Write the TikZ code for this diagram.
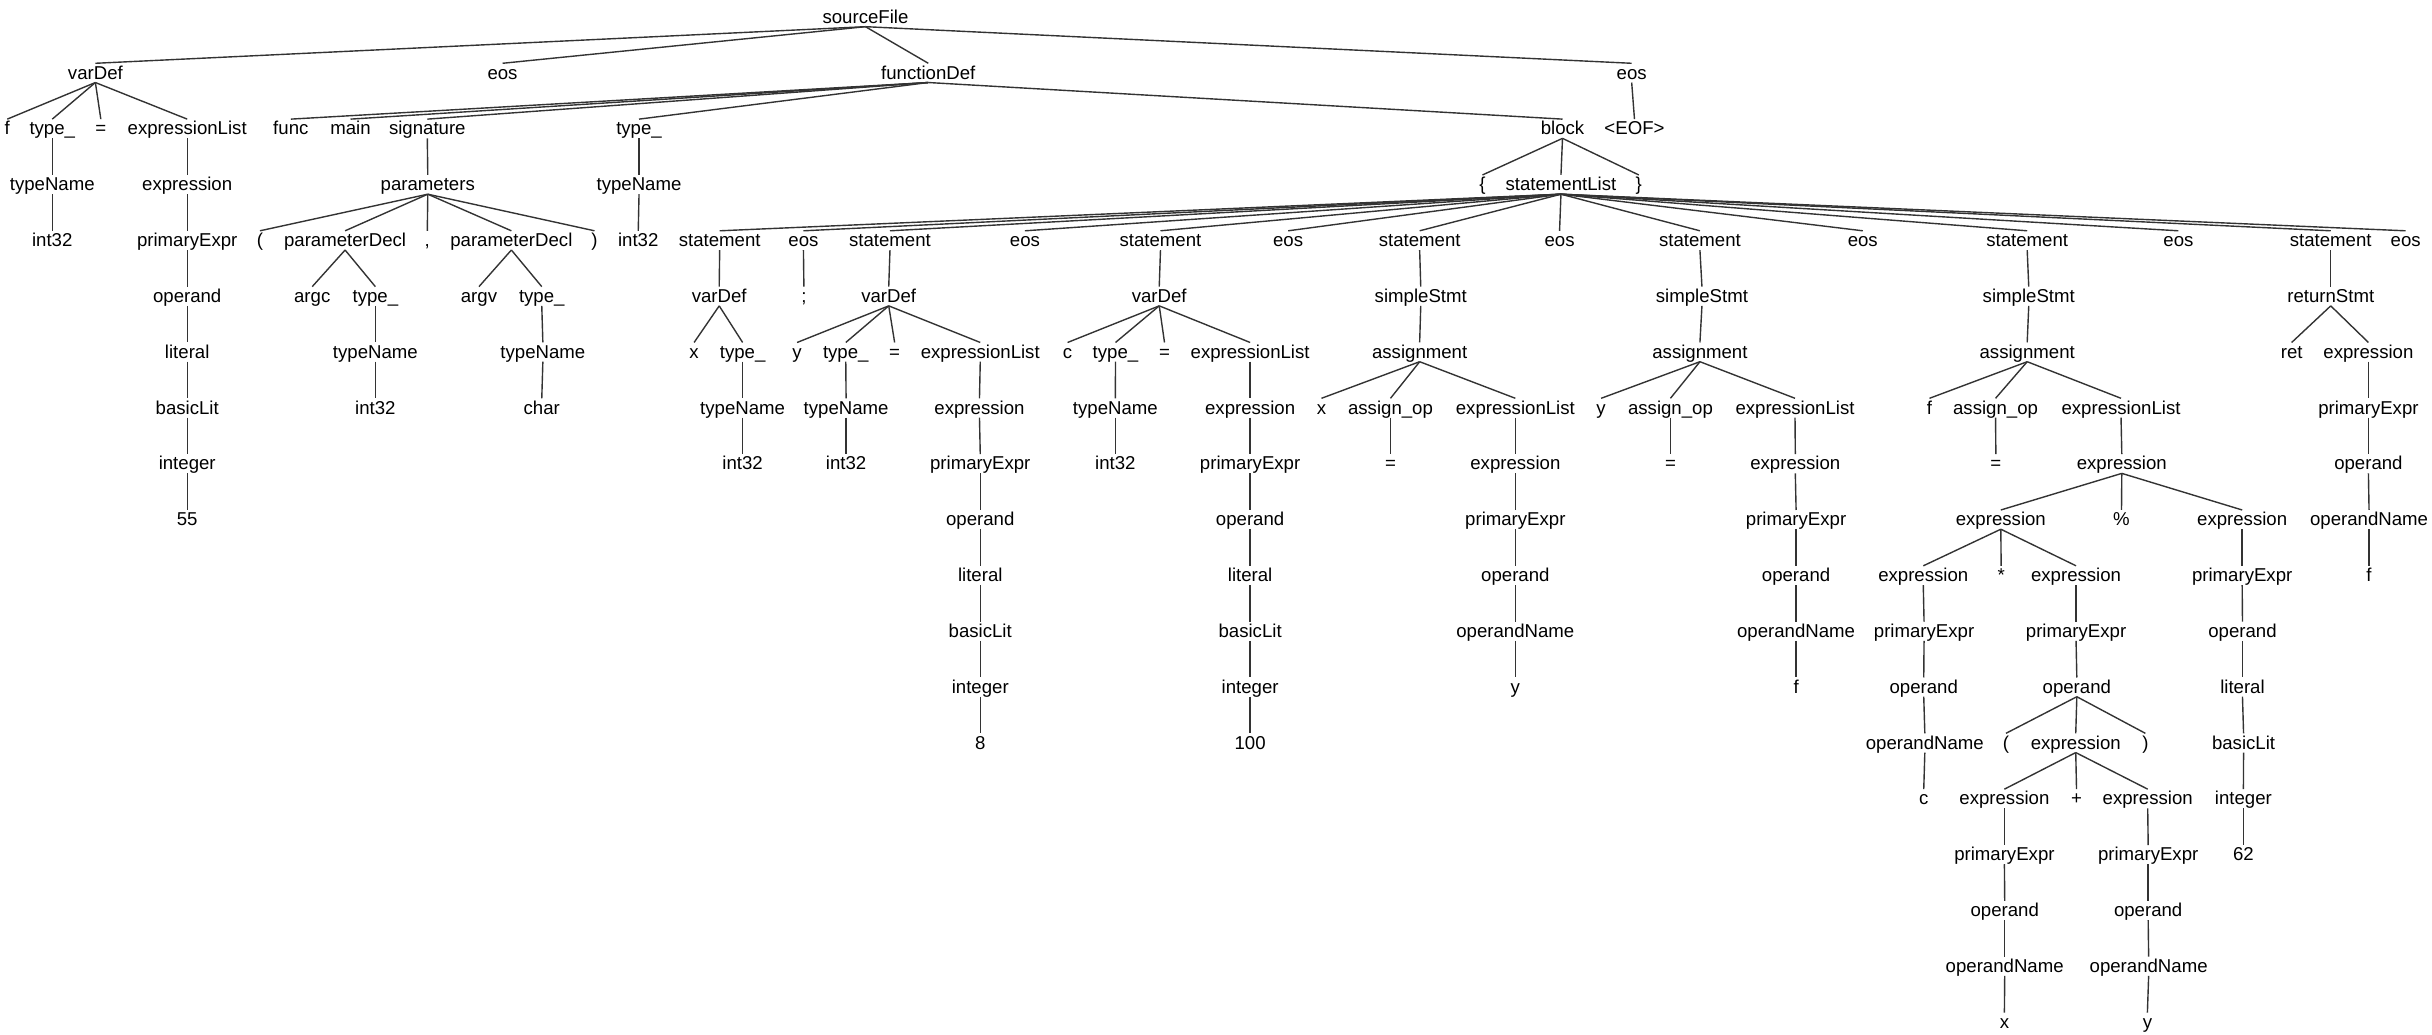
\documentclass[tikz,border=0pt]{standalone}
\usepackage{fontspec}
\setmainfont{Liberation Sans}
\usepackage{tikz}
\definecolor{tree-line}{HTML}{333333}
\definecolor{tree-text}{HTML}{000000}

\begin{document}
\begin{tikzpicture}[
    x=1pt, y=-36pt,
    lbl/.style={inner sep=0pt, text height=10pt, text depth=2pt,
                font=\fontsize{12}{14}\selectfont, text=tree-text},
    br/.style={draw=tree-line, line width=0.9pt},
]
    \useasboundingbox (0,-0.3056) rectangle (1568,18.2222);

    % sourceFile / top level
    \node[lbl] (sf) at (558,0) {sourceFile};
    \node[lbl] (vd) at (61.5,1) {varDef};
    \node[lbl] (eA) at (324,1) {eos};
    \node[lbl] (fd) at (598.5,1) {functionDef};
    \node[lbl] (eB) at (1052,1) {eos};

    \node[lbl] (vdF) at (4.7,2) {f};
    \node[lbl] (vdT) at (33.7,2) {type\_};
    \node[lbl] (vdEq) at (65,2) {=};
    \node[lbl] (vdEL) at (120.7,2) {expressionList};
    \node[lbl] (fnK) at (187.5,2) {func};
    \node[lbl] (fnM) at (226,2) {main};
    \node[lbl] (sig) at (275.5,2) {signature};
    \node[lbl] (fnT) at (412,2) {type\_};
    \node[lbl] (blk) at (1007.4,2) {block};
    \node[lbl] (eof) at (1053.8,2) {<EOF>};

    \node[lbl] (vdTN) at (33.7,3) {typeName};
    \node[lbl] (vdEx) at (120.7,3) {expression};
    \node[lbl] (pars) at (275.8,3) {parameters};
    \node[lbl] (fnTN) at (412,3) {typeName};
    \node[lbl] (lbr) at (955.8,3) {\{};
    \node[lbl] (sl) at (1006.4,3) {statementList};
    \node[lbl] (rbr) at (1056.6,3) {\}};

    \node[lbl] (vdI) at (33.7,4) {int32};
    \node[lbl] (vdPE) at (120.7,4) {primaryExpr};
    \node[lbl] (lp) at (167.6,4) {(};
    \node[lbl] (pd1) at (222.5,4) {parameterDecl};
    \node[lbl] (com) at (275.5,4) {,};
    \node[lbl] (pd2) at (329.7,4) {parameterDecl};
    \node[lbl] (rp) at (383.3,4) {)};
    \node[lbl] (fnI) at (411.5,4) {int32};
    \node[lbl] (st1) at (464,4) {statement};
    \node[lbl] (e1) at (518,4) {eos};
    \node[lbl] (st2) at (573.8,4) {statement};
    \node[lbl] (e2) at (660.8,4) {eos};
    \node[lbl] (st3) at (748.2,4) {statement};
    \node[lbl] (e3) at (830.5,4) {eos};
    \node[lbl] (st4) at (915.3,4) {statement};
    \node[lbl] (e4) at (1005.5,4) {eos};
    \node[lbl] (st5) at (1096,4) {statement};
    \node[lbl] (e5) at (1201,4) {eos};
    \node[lbl] (st6) at (1307,4) {statement};
    \node[lbl] (e6) at (1404.5,4) {eos};
    \node[lbl] (st7) at (1502.7,4) {statement};
    \node[lbl] (e7) at (1551,4) {eos};

    \node[lbl] (vdOp) at (120.7,5) {operand};
    \node[lbl] (argc) at (201.3,5) {argc};
    \node[lbl] (pd1T) at (242,5) {type\_};
    \node[lbl] (argv) at (308.8,5) {argv};
    \node[lbl] (pd2T) at (349.3,5) {type\_};
    \node[lbl] (st1V) at (463.7,5) {varDef};
    \node[lbl] (semi) at (518.3,5) {;};
    \node[lbl] (st2V) at (573,5) {varDef};
    \node[lbl] (st3V) at (747.4,5) {varDef};
    \node[lbl] (st4S) at (916,5) {simpleStmt};
    \node[lbl] (st5S) at (1097.3,5) {simpleStmt};
    \node[lbl] (st6S) at (1308,5) {simpleStmt};
    \node[lbl] (st7R) at (1502.7,5) {returnStmt};

    \node[lbl] (vdLit) at (120.7,6) {literal};
    \node[lbl] (pd1TN) at (242,6) {typeName};
    \node[lbl] (pd2TN) at (350,6) {typeName};
    \node[lbl] (st1X) at (447.5,6) {x};
    \node[lbl] (st1T) at (478.8,6) {type\_};
    \node[lbl] (st2Y) at (513.9,6) {y};
    \node[lbl] (st2T) at (545.3,6) {type\_};
    \node[lbl] (st2Eq) at (576.8,6) {=};
    \node[lbl] (st2EL) at (632,6) {expressionList};
    \node[lbl] (st3C) at (688.3,6) {c};
    \node[lbl] (st3T) at (719.2,6) {type\_};
    \node[lbl] (st3Eq) at (750.8,6) {=};
    \node[lbl] (st3EL) at (806,6) {expressionList};
    \node[lbl] (st4A) at (915.3,6) {assignment};
    \node[lbl] (st5A) at (1096,6) {assignment};
    \node[lbl] (st6A) at (1307,6) {assignment};
    \node[lbl] (ret) at (1477.5,6) {ret};
    \node[lbl] (st7E) at (1527,6) {expression};

    \node[lbl] (vdBL) at (120.7,7) {basicLit};
    \node[lbl] (pd1I) at (242,7) {int32};
    \node[lbl] (pd2C) at (349.3,7) {char};
    \node[lbl] (st1TN) at (478.8,7) {typeName};
    \node[lbl] (st2TN) at (545.5,7) {typeName};
    \node[lbl] (st2Ex) at (631.5,7) {expression};
    \node[lbl] (st3TN) at (719.1,7) {typeName};
    \node[lbl] (st3Ex) at (806,7) {expression};
    \node[lbl] (st4X) at (852,7) {x};
    \node[lbl] (st4AO) at (896.5,7) {assign\_op};
    \node[lbl] (st4EL) at (977,7) {expressionList};
    \node[lbl] (st5Y) at (1032.3,7) {y};
    \node[lbl] (st5AO) at (1077,7) {assign\_op};
    \node[lbl] (st5EL) at (1157.3,7) {expressionList};
    \node[lbl] (st6F) at (1244,7) {f};
    \node[lbl] (st6AO) at (1286.6,7) {assign\_op};
    \node[lbl] (st6EL) at (1367.5,7) {expressionList};
    \node[lbl] (st7PE) at (1527,7) {primaryExpr};

    \node[lbl] (vdInt) at (120.7,8) {integer};
    \node[lbl] (st1I) at (478.8,8) {int32};
    \node[lbl] (st2I) at (545.5,8) {int32};
    \node[lbl] (st2PE) at (632,8) {primaryExpr};
    \node[lbl] (st3I) at (719.1,8) {int32};
    \node[lbl] (st3PE) at (806,8) {primaryExpr};
    \node[lbl] (st4Eq) at (896.5,8) {=};
    \node[lbl] (st4Ex) at (977,8) {expression};
    \node[lbl] (st5Eq) at (1077,8) {=};
    \node[lbl] (st5Ex) at (1157.5,8) {expression};
    \node[lbl] (st6Eq) at (1286.8,8) {=};
    \node[lbl] (st6Ex) at (1368,8) {expression};
    \node[lbl] (st7Op) at (1527,8) {operand};

    \node[lbl] (v55) at (120.7,9) {55};
    \node[lbl] (st2Op) at (632,9) {operand};
    \node[lbl] (st3Op) at (806,9) {operand};
    \node[lbl] (st4PE) at (977,9) {primaryExpr};
    \node[lbl] (st5PE) at (1158,9) {primaryExpr};
    \node[lbl] (mulE) at (1290,9) {expression};
    \node[lbl] (mod) at (1367.8,9) {\%};
    \node[lbl] (litE) at (1445.6,9) {expression};
    \node[lbl] (st7ON) at (1527.4,9) {operandName};

    \node[lbl] (st2Lit) at (632,10) {literal};
    \node[lbl] (st3Lit) at (806,10) {literal};
    \node[lbl] (st4Op) at (977,10) {operand};
    \node[lbl] (st5Op) at (1158,10) {operand};
    \node[lbl] (cE) at (1240,10) {expression};
    \node[lbl] (mul) at (1290.2,10) {*};
    \node[lbl] (parE) at (1338.5,10) {expression};
    \node[lbl] (litPE) at (1445.6,10) {primaryExpr};
    \node[lbl] (st7F) at (1527.4,10) {f};

    \node[lbl] (st2BL) at (632,11) {basicLit};
    \node[lbl] (st3BL) at (806,11) {basicLit};
    \node[lbl] (st4ON) at (977,11) {operandName};
    \node[lbl] (st5ON) at (1158,11) {operandName};
    \node[lbl] (cPE) at (1240.5,11) {primaryExpr};
    \node[lbl] (parPE) at (1338.5,11) {primaryExpr};
    \node[lbl] (litOp) at (1445.8,11) {operand};

    \node[lbl] (st2Int) at (632,12) {integer};
    \node[lbl] (st3Int) at (806,12) {integer};
    \node[lbl] (st4Yv) at (977,12) {y};
    \node[lbl] (st5Fv) at (1158,12) {f};
    \node[lbl] (cOp) at (1240.3,12) {operand};
    \node[lbl] (parOp) at (1339,12) {operand};
    \node[lbl] (litLit) at (1445.8,12) {literal};

    \node[lbl] (v8) at (632,13) {8};
    \node[lbl] (v100) at (806,13) {100};
    \node[lbl] (cON) at (1241,13) {operandName};
    \node[lbl] (lp2) at (1293.3,13) {(};
    \node[lbl] (addE) at (1338.3,13) {expression};
    \node[lbl] (rp2) at (1383.2,13) {)};
    \node[lbl] (litBL) at (1446.5,13) {basicLit};

    \node[lbl] (cV) at (1240.3,14) {c};
    \node[lbl] (xE) at (1292.3,14) {expression};
    \node[lbl] (plus) at (1338.8,14) {+};
    \node[lbl] (yE) at (1384.7,14) {expression};
    \node[lbl] (litInt) at (1446.4,14) {integer};

    \node[lbl] (xPE) at (1292.3,15) {primaryExpr};
    \node[lbl] (yPE) at (1385,15) {primaryExpr};
    \node[lbl] (v62) at (1446.4,15) {62};

    \node[lbl] (xOp) at (1292.5,16) {operand};
    \node[lbl] (yOp) at (1385,16) {operand};
    \node[lbl] (xON) at (1292.5,17) {operandName};
    \node[lbl] (yON) at (1385.3,17) {operandName};
    \node[lbl] (xV) at (1292.3,18) {x};
    \node[lbl] (yV) at (1384.5,18) {y};

    % branches
    \foreach \a/\b in {sf/vd, sf/eA, sf/fd, sf/eB,
                       vd/vdF, vd/vdT, vd/vdEq, vd/vdEL, vdT/vdTN, vdTN/vdI,
                       vdEL/vdEx, vdEx/vdPE, vdPE/vdOp, vdOp/vdLit,
                       vdLit/vdBL, vdBL/vdInt, vdInt/v55,
                       fd/fnK, fd/fnM, fd/sig, fd/fnT, fd/blk, eB/eof,
                       sig/pars, pars/lp, pars/pd1, pars/com, pars/pd2, pars/rp,
                       pd1/argc, pd1/pd1T, pd1T/pd1TN, pd1TN/pd1I,
                       pd2/argv, pd2/pd2T, pd2T/pd2TN, pd2TN/pd2C,
                       fnT/fnTN, fnTN/fnI, blk/lbr, blk/sl, blk/rbr}
        \draw[br] (\a.south) -- (\b.north);

    \foreach \s in {st1, e1, st2, e2, st3, e3, st4, e4, st5, e5, st6, e6, st7, e7}
        \draw[br] (sl.south) -- (\s.north);

    \foreach \a/\b in {st1/st1V, st1V/st1X, st1V/st1T, st1T/st1TN, st1TN/st1I, e1/semi,
                       st2/st2V, st2V/st2Y, st2V/st2T, st2V/st2Eq, st2V/st2EL,
                       st2T/st2TN, st2TN/st2I, st2EL/st2Ex, st2Ex/st2PE, st2PE/st2Op,
                       st2Op/st2Lit, st2Lit/st2BL, st2BL/st2Int, st2Int/v8,
                       st3/st3V, st3V/st3C, st3V/st3T, st3V/st3Eq, st3V/st3EL,
                       st3T/st3TN, st3TN/st3I, st3EL/st3Ex, st3Ex/st3PE, st3PE/st3Op,
                       st3Op/st3Lit, st3Lit/st3BL, st3BL/st3Int, st3Int/v100}
        \draw[br] (\a.south) -- (\b.north);

    \foreach \a/\b in {st4/st4S, st4S/st4A, st4A/st4X, st4A/st4AO, st4A/st4EL,
                       st4AO/st4Eq, st4EL/st4Ex, st4Ex/st4PE, st4PE/st4Op,
                       st4Op/st4ON, st4ON/st4Yv,
                       st5/st5S, st5S/st5A, st5A/st5Y, st5A/st5AO, st5A/st5EL,
                       st5AO/st5Eq, st5EL/st5Ex, st5Ex/st5PE, st5PE/st5Op,
                       st5Op/st5ON, st5ON/st5Fv,
                       st7/st7R, st7R/ret, st7R/st7E, st7E/st7PE, st7PE/st7Op,
                       st7Op/st7ON, st7ON/st7F}
        \draw[br] (\a.south) -- (\b.north);

    \foreach \a/\b in {st6/st6S, st6S/st6A, st6A/st6F, st6A/st6AO, st6A/st6EL,
                       st6AO/st6Eq, st6EL/st6Ex, st6Ex/mulE, st6Ex/mod, st6Ex/litE,
                       mulE/cE, mulE/mul, mulE/parE,
                       cE/cPE, cPE/cOp, cOp/cON, cON/cV,
                       parE/parPE, parPE/parOp, parOp/lp2, parOp/addE, parOp/rp2,
                       addE/xE, addE/plus, addE/yE,
                       xE/xPE, xPE/xOp, xOp/xON, xON/xV,
                       yE/yPE, yPE/yOp, yOp/yON, yON/yV,
                       litE/litPE, litPE/litOp, litOp/litLit, litLit/litBL,
                       litBL/litInt, litInt/v62}
        \draw[br] (\a.south) -- (\b.north);
\end{tikzpicture}
\end{document}
